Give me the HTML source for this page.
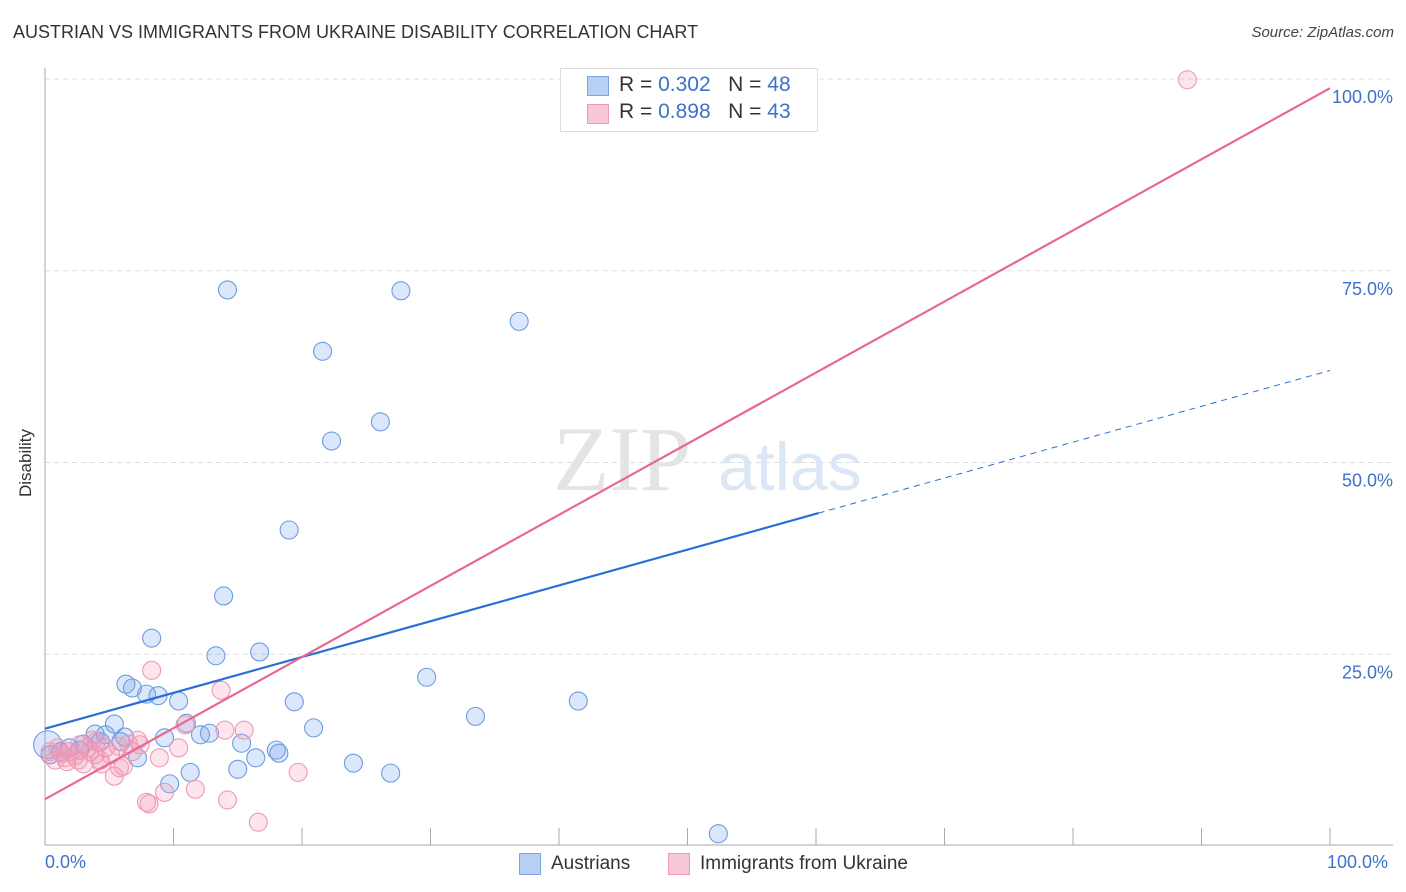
<!DOCTYPE html>
<html><head><meta charset="utf-8">
<style>
body{margin:0;background:#fff;font-family:"Liberation Sans",sans-serif;}
#wrap{position:relative;width:1406px;height:892px;overflow:hidden;}
.t{position:absolute;white-space:nowrap;}
</style></head>
<body>
<div id="wrap">
<div class="t" style="left:13px;top:22px;font-size:18px;color:#333;">AUSTRIAN VS IMMIGRANTS FROM UKRAINE DISABILITY CORRELATION CHART</div>
<div class="t" style="right:12px;top:24px;font-size:15px;color:#444;font-style:italic;">Source: ZipAtlas.com</div>
<svg id="svg" width="1406" height="892" style="position:absolute;left:0;top:0"></svg>
</div>
<script>
const blueX=[14.2,27.7,36.9,21.6,26.1,22.3,19.0,13.9,8.3,13.3,16.7,6.3,6.8,7.9,8.8,10.4,19.4,29.7,41.5,33.5,11.0,5.4,3.9,4.7,12.1,12.8,9.3,5.9,15.3,20.9,18.0,18.2,16.4,7.2,3.0,1.9,1.2,0.4,0.2,24.0,15.0,11.3,26.9,9.7,52.4,6.2,4.3,2.7];
const blueY=[72.5,72.4,68.4,64.5,55.3,52.8,41.2,32.6,27.1,24.8,25.3,21.1,20.6,19.8,19.6,18.9,18.8,22.0,18.9,16.9,16.0,15.9,14.6,14.5,14.5,14.7,14.1,13.6,13.4,15.4,12.5,12.1,11.5,11.5,13.3,12.8,12.3,11.9,13.2,10.8,10.0,9.6,9.5,8.1,1.6,14.2,13.6,12.5];
const pinkX=[88.9,8.3,13.7,10.9,14.0,15.5,10.4,6.5,7.2,8.9,19.7,4.0,4.7,5.4,6.1,5.8,9.3,11.7,7.9,8.1,14.2,16.6,3.5,3.0,2.3,1.6,0.8,0.4,1.0,1.9,5.1,4.3,3.3,2.7,1.3,6.8,5.7,1.7,2.6,3.9,7.4,4.4,3.7];
const pinkY=[99.9,22.9,20.3,15.8,15.1,15.1,12.8,13.3,13.8,11.5,9.6,13.6,12.8,9.1,10.4,10.2,7.0,7.4,5.7,5.5,6.0,3.1,12.3,10.7,11.7,11.5,11.2,12.3,12.8,12.3,11.9,11.2,12.8,13.2,12.1,12.3,13.0,11.0,11.2,11.9,13.2,10.7,13.8];
const blueTrend=[[0,15.3],[60.2,43.4],[100,62.0]];
const pinkTrend=[[0,6.1],[100,98.8]];
const yTicks=[25,50,75,100];
const yTickLabels=["25.0%","50.0%","75.0%","100.0%"];
const xTickVals=[0,10,20,30,40,50,60,70,80,90,100];

const NS="http://www.w3.org/2000/svg";
const svg=document.getElementById('svg');
const X=v=>45+v*12.85, Y=v=>846-v*7.67;
function mk(tag,at,parent){const e=document.createElementNS(NS,tag);for(const k in at)e.setAttribute(k,at[k]);(parent||svg).appendChild(e);return e;}
yTicks.forEach((v,i)=>{
 const g=mk('line',{x1:45,x2:1393,y1:Y(v),y2:Y(v),stroke:'#ddd','stroke-dasharray':'5,4'});
 
 
 const t=mk('text',{x:1393,y:Y(v)+24,'text-anchor':'end',fill:'#3d72c9','font-size':18,'font-family':'Liberation Sans, sans-serif'});
 t.textContent=yTickLabels[i];
 
 
});
const ax=mk('line',{x1:45,x2:1393,y1:845,y2:845,stroke:'#aaa'});


const ay=mk('line',{x1:45,x2:45,y1:68,y2:845,stroke:'#aaa'});


xTickVals.forEach(v=>{
 const l=mk('line',{x1:X(v),x2:X(v),y1:828,y2:845,stroke:'#aaa'});
 
 
});
const wm=mk('text',{x:553,y:490,fill:'#e4e4e4','font-size':92,'font-family':'Liberation Serif, serif'});
wm.textContent='ZIP';


const wm2=mk('text',{x:718,y:490,fill:'#dce7f6','font-size':68,'font-family':'Liberation Sans, sans-serif'});
wm2.textContent='atlas';


function pts(xs,ys,fill,stroke,name){
 xs.forEach((x,i)=>{
  const r=(name==='austrian-point'&&i===38)?14:9;
  const c=mk('circle',{cx:X(x),cy:Y(ys[i]),r:r,fill:fill,stroke:stroke,'stroke-width':1.1});
  
  
 });
}
pts(blueX,blueY,'rgba(110,160,235,0.25)','#6c9ce0','austrian-point');
pts(pinkX,pinkY,'rgba(245,150,180,0.25)','#ee9ab5','ukraine-point');
const b1=mk('line',{x1:X(blueTrend[0][0]),y1:Y(blueTrend[0][1]),x2:X(blueTrend[1][0]),y2:Y(blueTrend[1][1]),stroke:'#2a6fd6','stroke-width':2.2});


const b2=mk('line',{x1:X(blueTrend[1][0]),y1:Y(blueTrend[1][1]),x2:X(blueTrend[2][0]),y2:Y(blueTrend[2][1]),stroke:'#2a6fd6','stroke-width':1,'stroke-dasharray':'6,5'});


const p1=mk('line',{x1:X(pinkTrend[0][0]),y1:Y(pinkTrend[0][1]),x2:X(pinkTrend[1][0]),y2:Y(pinkTrend[1][1]),stroke:'#e8688f','stroke-width':2.2});


</script>
<div class="t" style="left:45px;top:852px;font-size:18px;color:#3d72c9;">0.0%</div>
<div class="t" style="left:1327px;top:852px;font-size:18px;color:#3d72c9;">100.0%</div>
<div class="t" style="left:16px;top:497px;font-size:17px;color:#333;transform:rotate(-90deg);transform-origin:0 0;">Disability</div>
<div style="position:absolute;left:560px;top:68px;width:256px;height:62px;border:1px solid #ddd;background:#fff;">
 <div style="position:absolute;left:26px;top:7px;width:20px;height:18px;background:#b8d0f4;border:1px solid #7aa4e2;"></div>
 <div class="t" style="left:58px;top:4px;font-size:21px;color:#333;">R = <span style="color:#3d72c9">0.302</span>&nbsp;&nbsp;&nbsp;N = <span style="color:#3d72c9">48</span></div>
 <div style="position:absolute;left:26px;top:35px;width:20px;height:18px;background:#f9c8d6;border:1px solid #ee9cb5;"></div>
 <div class="t" style="left:58px;top:31px;font-size:21px;color:#333;">R = <span style="color:#3d72c9">0.898</span>&nbsp;&nbsp;&nbsp;N = <span style="color:#3d72c9">43</span></div>
</div>
<div style="position:absolute;left:519px;top:853px;width:20px;height:20px;background:#b8d0f4;border:1px solid #7aa4e2;"></div>
<div class="t" style="left:551px;top:853px;font-size:19px;color:#333;">Austrians</div>
<div style="position:absolute;left:668px;top:853px;width:20px;height:20px;background:#f9c8d6;border:1px solid #ee9cb5;"></div>
<div class="t" style="left:700px;top:853px;font-size:19px;color:#333;">Immigrants from Ukraine</div>
</body></html>
